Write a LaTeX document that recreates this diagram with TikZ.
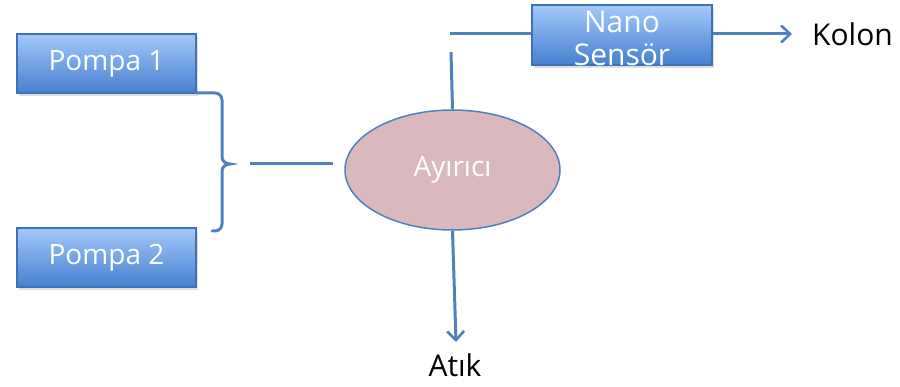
\documentclass[tikz,border=0pt]{standalone}
\usepackage{fontspec}
\setmainfont{Open Sans}
\usetikzlibrary{arrows.meta,shadows,shapes.geometric}
\definecolor{lineblue}{HTML}{4F81BD}
\definecolor{boxtop}{HTML}{A3C8FA}
\definecolor{boxbot}{HTML}{4680CF}
\definecolor{boxborder}{HTML}{3F72B5}
\definecolor{sepfill}{HTML}{D9B9BD}
\tikzset{
  x=1pt,y=-1pt,
  bluebox/.style={draw=boxborder, line width=1.5pt, top color=boxtop, bottom color=boxbot,
    text=white, font=\fontsize{28}{30}\selectfont, align=center, inner sep=0pt,
    drop shadow={shadow xshift=2pt, shadow yshift=-3pt, opacity=0.25}},
  conn/.style={draw=lineblue, line width=3pt},
  arr/.style={conn, -{Straight Barb[length=9pt,width=17pt,line width=2.6pt]}},
  lbl/.style={font=\fontsize{30}{32}\selectfont, text=black, inner sep=0pt}
}
\begin{document}
\begin{tikzpicture}
\useasboundingbox (0,0) rectangle (900,387);
\node[bluebox, minimum width=179pt, minimum height=59pt] (p1) at (106.5,63.5) {Pompa 1};
\node[bluebox, minimum width=179pt, minimum height=59pt] (p2) at (106.5,257.5) {Pompa 2};
\node[bluebox, minimum width=180pt, minimum height=60pt] (ns) at (622,35) {};
\node[text=white, font=\fontsize{30}{33}\selectfont, align=center, inner sep=0pt] (nst) at (622,38) {Nano\\Sensör};
\node[draw=lineblue, line width=1.5pt, fill=sepfill, ellipse, minimum width=215pt, minimum height=120pt,
  inner sep=0pt, text=white, font=\fontsize{28}{30}\selectfont] (ay) at (452.5,170) {\raisebox{-4pt}{Ayırıcı}};
\node[lbl, anchor=west] (kolon) at (812,34) {Kolon};
\node[lbl, anchor=base] (atik) at (455,377) {Atık};
% brace
\draw[conn, line cap=round] (196,93) -- (215,93) to[out=0,in=90] (222,100) -- (222,157)
  to[out=-90,in=180] (230,164) to[out=180,in=90] (222,171) -- (222,224)
  to[out=-90,in=0] (215,231) -- (212,231);
\coordinate (bm) at (250,164);
\coordinate (bm2) at (333,164);
\draw[conn] (bm) -- (bm2);
% separator to sensor
\coordinate (v1) at (451,52);
\coordinate (h1) at (450,34);
\draw[conn] (ay.north) -- (v1);
\draw[conn] (h1) -- (ns.west |- h1);
% sensor to kolon
\coordinate (k1) at (792,34);
\draw[arr] (ns.east |- k1) -- (k1);
% separator to waste
\coordinate (w1) at (456,342);
\draw[arr] (ay.south) -- (w1);
\end{tikzpicture}
\end{document}
